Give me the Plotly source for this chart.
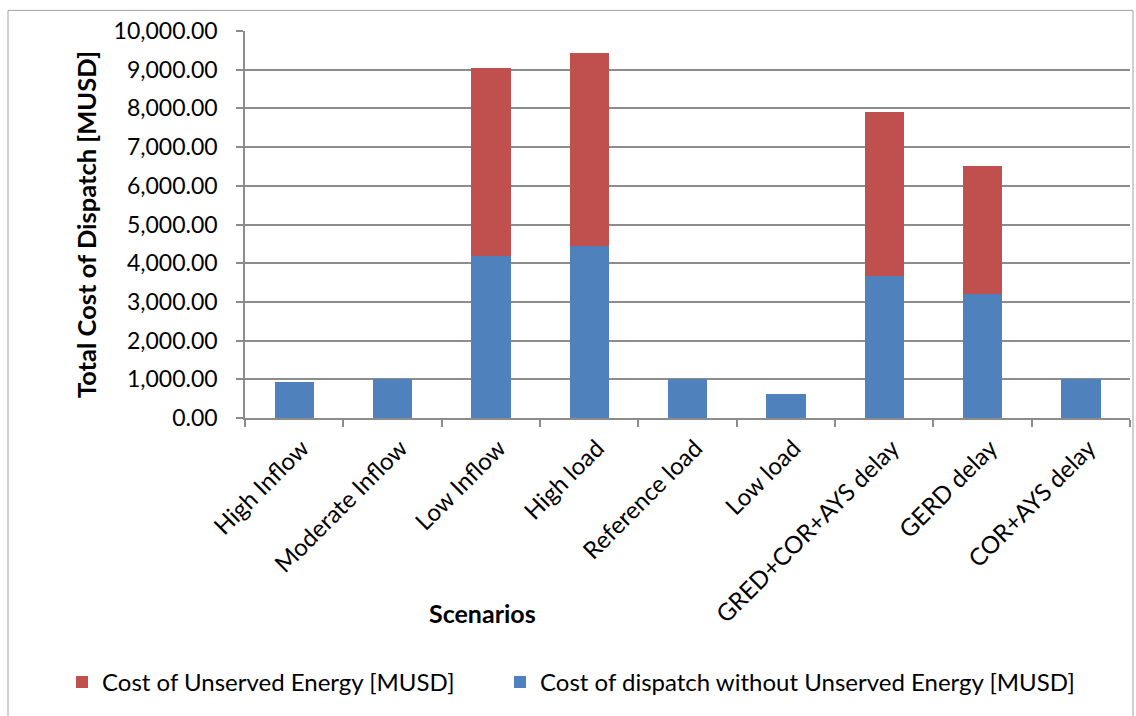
import plotly.graph_objects as go

# Scenario names and cost components (MUSD)
scenarios = ["High Inflow", "Moderate Inflow", "Low Inflow", "High load",
             "Reference load", "Low load", "GRED+COR+AYS delay", "GERD delay",
             "COR+AYS delay"]
dispatch_cost = [930, 1015, 4176, 4442, 1015, 610, 3677, 3212, 997]
unserved_cost = [0, 0, 4866, 4998, 0, 0, 4220, 3289, 0]

BLUE = "#4F81BD"
RED = "#C0504D"
GRID = "#8C8C8C"
FONT = "Lato"

W, H = 1136, 716
L, R, T, B = 245, 6, 30.6, 298.4
pw, ph = W - L - R, H - T - B


def px_x(p):
    return (p - L) / pw


def px_y(p):
    return (H - B - p) / ph


fig = go.Figure()
fig.add_trace(go.Bar(
    x=scenarios, y=dispatch_cost,
    name="Cost of dispatch without Unserved Energy [MUSD]",
    marker=dict(color=BLUE, line=dict(width=0)),
    legend="legend2",
))
fig.add_trace(go.Bar(
    x=scenarios, y=unserved_cost,
    name="Cost of Unserved Energy [MUSD]",
    marker=dict(color=RED, line=dict(width=0)),
    legend="legend",
))

legend_style = dict(
    orientation="h", xanchor="left", yanchor="middle",
    font=dict(size=24), bgcolor="rgba(0,0,0,0)",
)

fig.update_layout(
    width=W, height=H,
    barmode="stack", bargap=0.6,
    paper_bgcolor="white", plot_bgcolor="white",
    margin=dict(l=L, r=R, t=T, b=B, autoexpand=False),
    font=dict(family=FONT, size=22, color="black"),
    showlegend=True,
    legend=dict(x=px_x(62), y=px_y(682), **legend_style),
    legend2=dict(x=px_x(500), y=px_y(682), **legend_style),
    xaxis=dict(
        type="category", tickson="boundaries", tickangle=-45,
        ticks="outside", ticklen=7, tickcolor=GRID, tickwidth=1.5,
        showline=True, linecolor=GRID, linewidth=1.5,
        showgrid=False, tickfont=dict(size=24),
        ticklabelshift=8, ticklabelstandoff=5,
    ),
    yaxis=dict(
        range=[0, 10000], dtick=1000, tickformat=",.2f",
        ticks="outside", ticklen=7, tickcolor=GRID, tickwidth=1.5,
        showline=True, linecolor=GRID, linewidth=1.5,
        showgrid=True, gridcolor=GRID, gridwidth=1.5,
        zeroline=False, tickfont=dict(size=23), ticklabelstandoff=14,
        title=dict(text="<b>Total Cost of Dispatch [MUSD]</b>",
                   font=dict(size=25.5), standoff=10),
    ),
    annotations=[dict(
        text="<b>Scenarios</b>", xref="paper", yref="paper",
        x=px_x(482), y=px_y(613), showarrow=False,
        font=dict(size=25), xanchor="center", yanchor="middle",
    )],
    shapes=[dict(
        type="rect", xref="paper", yref="paper",
        x0=px_x(8), x1=px_x(1133), y0=px_y(740), y1=px_y(10),
        line=dict(color="#A0A0A0", width=1), layer="below",
    )],
)

fig.write_html("out.html")
